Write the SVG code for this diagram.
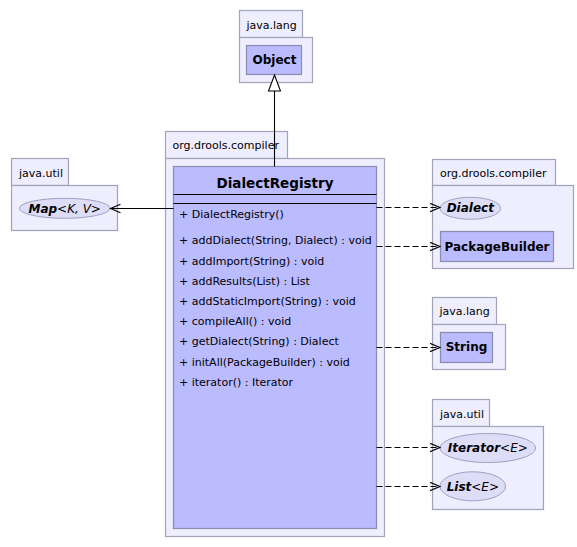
<svg xmlns="http://www.w3.org/2000/svg" width="577" height="547" viewBox="0 0 577 547">
<defs>
<style>
text{font-family:"DejaVu Sans","Liberation Sans",sans-serif;fill:#000}
.pkg{fill:#eeeeff;stroke:#a3a3b8;stroke-width:1.2}
.cls{fill:#bbbbff;stroke:#8c8cae;stroke-width:1.2}
.ifc{fill:#ddddf8;stroke:#a0a0c4;stroke-width:1}
.plab{font-size:11px}
.cname{font-size:12px;font-weight:bold;text-anchor:middle}
.iname{font-size:12px;font-weight:bold;font-style:italic;text-anchor:middle}
.gen{font-weight:normal}
.op{font-size:11px}
.line{stroke:#000;stroke-width:1.1;fill:none}
.dash{stroke:#000;stroke-width:1.1;fill:none;stroke-dasharray:6,3}
</style>
<marker id="open" markerWidth="12" markerHeight="12" refX="10" refY="5" orient="auto" markerUnits="userSpaceOnUse">
<path d="M0,0.8 L10,5 L0,9.2" fill="none" stroke="#000" stroke-width="1.1"/>
</marker>
</defs>
<rect width="577" height="547" fill="#fff"/>

<g id="pkg-java-lang-top">
<rect class="pkg" x="239.5" y="10.5" width="63" height="27"/>
<rect class="pkg" x="239.5" y="37.5" width="73" height="45"/>
<text class="plab" x="246.5" y="29">java.lang</text>
</g>
<g id="Object">
<rect class="cls" x="246.5" y="45.5" width="55" height="29"/>
<text class="cname" x="274.5" y="64">Object</text>
</g>

<g id="pkg-org-drools-compiler-main">
<rect class="pkg" x="165.5" y="131.5" width="122" height="27"/>
<rect class="pkg" x="165.5" y="158.5" width="219" height="378"/>
<text class="plab" x="172.5" y="149">org.drools.compiler</text>
</g>
<g id="DialectRegistry">
<rect class="cls" x="173.5" y="166.5" width="203" height="362"/>
<text x="275" y="188" font-size="13.5" font-weight="bold" text-anchor="middle">DialectRegistry</text>
<line x1="173.5" y1="194.5" x2="376.5" y2="194.5" stroke="#000" stroke-width="1"/>
<line x1="173.5" y1="203.5" x2="376.5" y2="203.5" stroke="#000" stroke-width="1"/>
<text class="op" x="179" y="217.5">+ DialectRegistry()</text>
<text class="op" x="179" y="244.3">+ addDialect(String, Dialect) : void</text>
<text class="op" x="179" y="264.5">+ addImport(String) : void</text>
<text class="op" x="179" y="284.7">+ addResults(List) : List</text>
<text class="op" x="179" y="304.9">+ addStaticImport(String) : void</text>
<text class="op" x="179" y="325.1">+ compileAll() : void</text>
<text class="op" x="179" y="345.3">+ getDialect(String) : Dialect</text>
<text class="op" x="179" y="365.5">+ initAll(PackageBuilder) : void</text>
<text class="op" x="179" y="385.7">+ iterator() : Iterator</text>
</g>

<g id="pkg-java-util-left">
<rect class="pkg" x="11.5" y="158.5" width="57" height="27"/>
<rect class="pkg" x="11.5" y="185.5" width="106" height="45"/>
<text class="plab" x="19" y="176.5">java.util</text>
</g>
<g id="Map">
<ellipse class="ifc" cx="64.7" cy="208.3" rx="45.3" ry="10"/>
<text class="iname" x="64.7" y="212.5">Map<tspan class="gen">&lt;K, V&gt;</tspan></text>
</g>

<g id="pkg-org-drools-compiler-right">
<rect class="pkg" x="432.5" y="159.5" width="123" height="26"/>
<rect class="pkg" x="432.5" y="185.5" width="141" height="83"/>
<text class="plab" x="440" y="176.5">org.drools.compiler</text>
</g>
<g id="Dialect">
<ellipse class="ifc" cx="470.3" cy="208.3" rx="30.3" ry="11"/>
<text class="iname" x="470.3" y="212.3">Dialect</text>
</g>
<g id="PackageBuilder">
<rect class="cls" x="440.5" y="231.5" width="113" height="30"/>
<text class="cname" x="497" y="250.5">PackageBuilder</text>
</g>

<g id="pkg-java-lang-right">
<rect class="pkg" x="432.5" y="297.5" width="64" height="27"/>
<rect class="pkg" x="432.5" y="324.5" width="73" height="45"/>
<text class="plab" x="439.5" y="315">java.lang</text>
</g>
<g id="String">
<rect class="cls" x="440.5" y="332.5" width="52" height="30"/>
<text class="cname" x="466.5" y="350.5">String</text>
</g>

<g id="pkg-java-util-right">
<rect class="pkg" x="432.5" y="399.5" width="57" height="27"/>
<rect class="pkg" x="432.5" y="426.5" width="111" height="83"/>
<text class="plab" x="440" y="417.5">java.util</text>
</g>
<g id="Iterator">
<ellipse class="ifc" cx="487.8" cy="448" rx="47.8" ry="14.5"/>
<text class="iname" x="487.8" y="452.3">Iterator<tspan class="gen">&lt;E&gt;</tspan></text>
</g>
<g id="List">
<ellipse class="ifc" cx="472.8" cy="486.3" rx="32.8" ry="14.5"/>
<text class="iname" x="472.8" y="490.5">List<tspan class="gen">&lt;E&gt;</tspan></text>
</g>

<g id="connectors">
<line class="line" x1="274.5" y1="166.5" x2="274.5" y2="91"/>
<path d="M268.5,91 L280.5,91 L274.5,75 Z" fill="#fff" stroke="#000" stroke-width="1.1"/>
<line class="line" x1="173.5" y1="208.5" x2="110.5" y2="208.5" marker-end="url(#open)"/>
<line class="dash" x1="376.5" y1="207.5" x2="440" y2="207.5" marker-end="url(#open)"/>
<line class="dash" x1="376.5" y1="246.5" x2="440" y2="246.5" marker-end="url(#open)"/>
<line class="dash" x1="376.5" y1="347.5" x2="440" y2="347.5" marker-end="url(#open)"/>
<line class="dash" x1="376.5" y1="447.5" x2="440" y2="447.5" marker-end="url(#open)"/>
<line class="dash" x1="376.5" y1="486.5" x2="440" y2="486.5" marker-end="url(#open)"/>
</g>
</svg>
